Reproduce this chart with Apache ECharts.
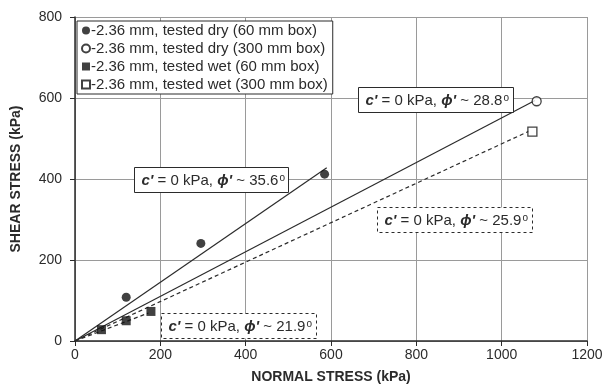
<!DOCTYPE html>
<html>
<head>
<meta charset="utf-8">
<script src="https://cdn.jsdelivr.net/npm/echarts@6/dist/echarts.min.js"></script>
<style>
  html, body { margin: 0; padding: 0; background: #fff; }
  #chart { width: 608px; height: 389px; }
</style>
</head>
<body>
<div id="chart"></div>
<script>
// measured points [normal stress, shear stress] in kPa
var dry60 = [[120, 108], [295, 241], [585, 412]]
var dry300 = [[1082, 592]]
var wet60 = [[62, 28], [120, 50], [178, 73]]
var wet300 = [[1072, 517]]

// fitted envelopes (c' = 0)
var fit356 = [[0, 0], [590, 428]]
var fit288 = [[0, 0], [1078, 594]]
var fit259 = [[0, 0], [1064, 518]]
var fit219 = [[0, 0], [172, 69]]

var seriesNames = [
  '-2.36 mm, tested dry (60 mm box)',
  '-2.36 mm, tested dry (300 mm box)',
  '-2.36 mm, tested wet (60 mm box)',
  '-2.36 mm, tested wet (300 mm box)'
]
var xTicks = [0, 200, 400, 600, 800, 1000, 1200]
var yTicks = [0, 200, 400, 600, 800]

var ink = '#2b2b2b'
var font = 'Liberation Sans, Arial, sans-serif'

function fitLine(data, dashed) {
  return {
    type: 'line', data: data, symbol: 'none', silent: true, z: 1,
    lineStyle: { color: ink, width: 1.2, type: dashed ? [4, 3] : 'solid' }
  }
}

function note(x, y, w, phi, dashed) {
  return {
    type: 'group', left: x, top: y, z: 50,
    children: [
      {
        type: 'rect', z: 50, shape: { x: 0, y: 0, width: w, height: 25 },
        style: { fill: '#fff', stroke: ink, lineWidth: 1, lineDash: dashed ? [3, 3] : null }
      },
      {
        type: 'text', z: 51, x: 7, y: 13,
        style: {
          text: "{b|c'}{n| = 0 kPa, }{b|\u03d5'}{n| ~ " + phi + '}{s|o}',
          verticalAlign: 'middle',
          rich: {
            n: { fontSize: 15, fontFamily: font, fill: ink },
            b: { fontWeight: 'bold', fontStyle: 'italic', fontSize: 15, fontFamily: font, fill: ink },
            s: { fontSize: 10, fontFamily: font, verticalAlign: 'top', padding: [0, 0, 4, 1], fill: ink }
          }
        }
      }
    ]
  }
}

var chart = echarts.init(document.getElementById('chart'))
chart.setOption({
  animation: false,
  textStyle: { fontFamily: font },
  grid: { left: 75, right: 21, top: 17, bottom: 46 },
  xAxis: {
    type: 'value', min: xTicks[0], max: xTicks[xTicks.length - 1], interval: 200,
    name: 'NORMAL STRESS (kPa)', nameLocation: 'middle', nameGap: 29,
    nameTextStyle: { fontWeight: 'bold', fontSize: 14, color: ink },
    axisLine: { lineStyle: { color: ink, width: 1.5 } },
    axisTick: { show: true, length: 5, lineStyle: { color: ink } },
    axisLabel: { fontSize: 14, color: ink, margin: 7, formatter: function (v) { return String(v) } },
    splitLine: { lineStyle: { color: '#9a9a9a', width: 1 } }
  },
  yAxis: {
    type: 'value', min: yTicks[0], max: yTicks[yTicks.length - 1], interval: 200,
    name: 'SHEAR STRESS (kPa)', nameLocation: 'middle', nameGap: 52,
    nameTextStyle: { fontWeight: 'bold', fontSize: 14, color: ink },
    axisLine: { show: true, lineStyle: { color: ink, width: 1.5 } },
    axisTick: { show: true, length: 5, lineStyle: { color: ink } },
    axisLabel: { fontSize: 14, color: ink, margin: 13 },
    splitLine: { lineStyle: { color: '#9a9a9a', width: 1 } }
  },
  legend: {
    orient: 'vertical', left: 77, top: 21,
    padding: [2, 5, 2, 4], itemGap: 3, itemWidth: 8, itemHeight: 8,
    backgroundColor: '#fff', borderColor: ink, borderWidth: 1, borderRadius: 0,
    textStyle: { fontSize: 15, color: ink, padding: [0, 0, 0, -4] },
    data: [
      { name: seriesNames[0], icon: 'circle' },
      { name: seriesNames[1], icon: 'circle' },
      { name: seriesNames[2], icon: 'rect' },
      { name: seriesNames[3], icon: 'rect' }
    ]
  },
  series: [
    fitLine(fit356, false),
    fitLine(fit288, false),
    fitLine(fit259, true),
    fitLine(fit219, true),
    {
      name: seriesNames[0], type: 'scatter', data: dry60, symbol: 'circle', symbolSize: 9, z: 3,
      itemStyle: { color: '#111' }
    },
    {
      name: seriesNames[1], type: 'scatter', data: dry300, symbol: 'circle', symbolSize: 9, z: 3,
      itemStyle: { color: '#fff', borderColor: '#111', borderWidth: 1.3 }
    },
    {
      name: seriesNames[2], type: 'scatter', data: wet60, symbol: 'rect', symbolSize: 9, z: 3,
      itemStyle: { color: '#111' }
    },
    {
      name: seriesNames[3], type: 'scatter', data: wet300, symbol: 'rect', symbolSize: 9, z: 3,
      itemStyle: { color: '#fff', borderColor: '#111', borderWidth: 1.3 }
    }
  ],
  graphic: [
    note(134, 167, 154, '35.6', false),
    note(358, 87, 155, '28.8', false),
    note(377, 207, 155, '25.9', true),
    note(161, 313, 155, '21.9', true)
  ]
})
</script>
</body>
</html>
